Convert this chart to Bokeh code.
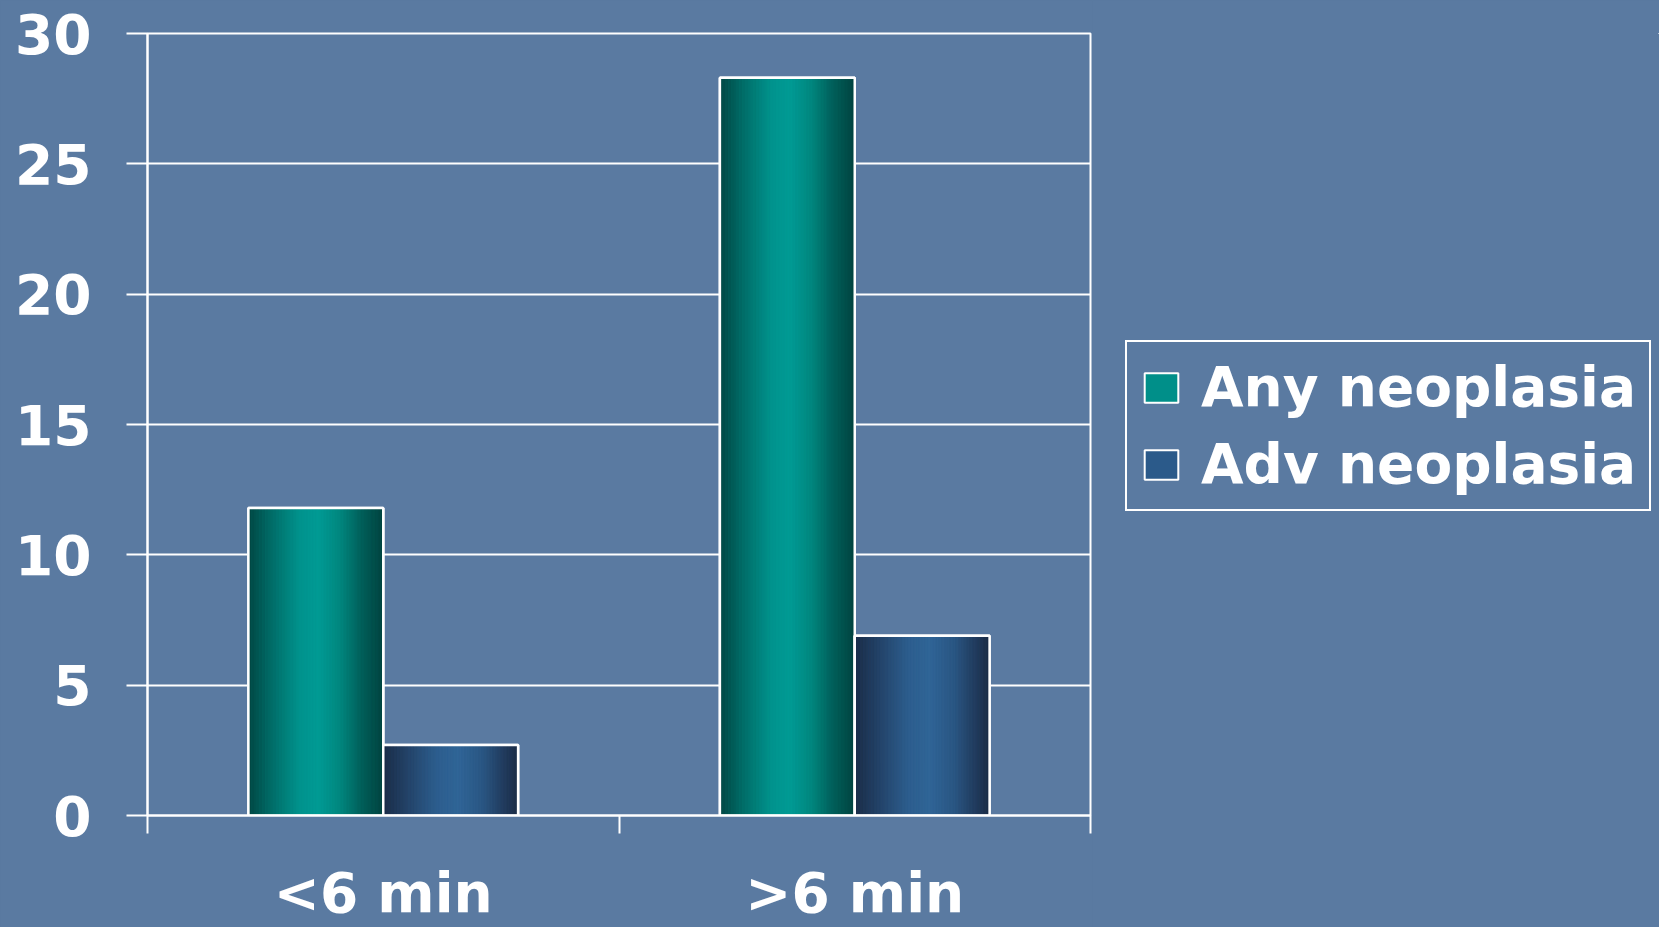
from bokeh.plotting import figure
from bokeh.layouts import row
from bokeh.models import (Range1d, FixedTicker, ColumnDataSource,
                          Legend, LegendItem)
from bokeh.embed import file_html
from bokeh.resources import INLINE

# ---- data -------------------------------------------------------------
categories = ["<6 min", ">6 min"]
series = ["Any neoplasia", "Adv neoplasia"]
any_neoplasia = [11.8, 28.3]
adv_neoplasia = [2.7, 6.9]
y_ticks = [0, 5, 10, 15, 20, 25, 30]

# ---- styling ----------------------------------------------------------
BG = "#5a7aa1"
WHITE = "#ffffff"
FONT = "DejaVu Sans"
BAR_W = 0.286          # width of one bar, in category units
N_STRIPS = 48          # vertical strips used to shade each bar like a cylinder

# horizontal shading profiles (position across bar -> colour)
any_profile = [(0.0, "#004643"), (0.18, "#006e69"), (0.38, "#00938d"),
               (0.52, "#009b95"), (0.68, "#00877f"), (0.84, "#005f5a"),
               (1.0, "#00433f")]
adv_profile = [(0.0, "#1b2c47"), (0.2, "#24456b"), (0.4, "#2d5e8e"),
               (0.56, "#306597"), (0.74, "#2a5683"), (0.9, "#213b5d"),
               (1.0, "#1b2b45")]
mid_colors = ["#008f89", "#2b5a8a"]


def hex_to_rgb(h):
    h = h.lstrip("#")
    return tuple(int(h[i:i + 2], 16) for i in (0, 2, 4))


def shade(profile, t):
    for (t0, c0), (t1, c1) in zip(profile[:-1], profile[1:]):
        if t0 <= t <= t1:
            f = (t - t0) / (t1 - t0) if t1 > t0 else 0.0
            a, b = hex_to_rgb(c0), hex_to_rgb(c1)
            r, g, bl = (round(a[k] + (b[k] - a[k]) * f) for k in range(3))
            return "#%02x%02x%02x" % (r, g, bl)
    return profile[-1][1]


centers = [i + 0.5 for i in range(len(categories))]
values = [any_neoplasia, adv_neoplasia]
profiles = [any_profile, adv_profile]
offsets = [-BAR_W / 2, BAR_W / 2]
bar_sources = [ColumnDataSource(dict(x=[c + offsets[s] for c in centers],
                                     top=values[s]))
               for s in range(len(series))]

# ---- chart ------------------------------------------------------------
p = figure(width=1092, height=927,
           x_range=Range1d(0, len(categories)), y_range=Range1d(0, 30),
           min_border_left=147, min_border_right=2,
           min_border_top=33, min_border_bottom=112,
           output_backend="svg", toolbar_location=None)

p.background_fill_color = BG
p.border_fill_color = BG
p.outline_line_color = WHITE
p.outline_line_width = 2

for s, name in enumerate(series):
    src = bar_sources[s]
    p.vbar(x="x", top="top", bottom=0, width=BAR_W, source=src,
           fill_color=mid_colors[s], line_color=WHITE, line_width=2.5)

    # cylinder shading
    sx, st, sc = [], [], []
    for c, v in zip(src.data["x"], src.data["top"]):
        left = c - BAR_W / 2
        for k in range(N_STRIPS):
            t = (k + 0.5) / N_STRIPS
            sx.append(left + t * BAR_W)
            st.append(v)
            sc.append(shade(profiles[s], t))
    strip_src = ColumnDataSource(dict(x=sx, top=st, color=sc))
    p.vbar(x="x", top="top", bottom=0, width=BAR_W / N_STRIPS * 1.02,
           source=strip_src, fill_color="color", line_color="color",
           line_width=0.6)

    # crisp white border on top of the shading
    p.vbar(x="x", top="top", bottom=0, width=BAR_W, source=src,
           fill_alpha=0, line_color=WHITE, line_width=2.5)

# ---- axes -------------------------------------------------------------
p.xgrid.visible = False
p.ygrid.grid_line_color = WHITE
p.ygrid.grid_line_width = 2
p.ygrid.ticker = FixedTicker(ticks=y_ticks)

yax = p.yaxis[0]
yax.ticker = FixedTicker(ticks=y_ticks)
yax.axis_line_color = WHITE
yax.axis_line_width = 2
yax.major_tick_line_color = WHITE
yax.major_tick_line_width = 2
yax.major_tick_out = 21
yax.major_tick_in = 0
yax.minor_tick_line_color = None
yax.major_label_standoff = 35
yax.major_label_text_font = FONT
yax.major_label_text_font_style = "bold"
yax.major_label_text_font_size = "55px"
yax.major_label_text_color = WHITE

# category names sit at the group centres, tick marks at the group edges
xax = p.xaxis[0]
xax.ticker = FixedTicker(ticks=centers,
                         minor_ticks=list(range(len(categories) + 1)))
xax.major_label_overrides = {c: name for c, name in zip(centers, categories)}
xax.axis_line_color = WHITE
xax.axis_line_width = 2
xax.major_tick_line_color = None
xax.major_tick_out = 0
xax.major_tick_in = 0
xax.minor_tick_line_color = WHITE
xax.minor_tick_line_width = 2
xax.minor_tick_out = 18
xax.minor_tick_in = 0
xax.major_label_standoff = 27
xax.major_label_text_font = FONT
xax.major_label_text_font_style = "bold"
xax.major_label_text_font_size = "55px"
xax.major_label_text_color = WHITE

# ---- legend panel -----------------------------------------------------
# the same series bars feed the legend; this panel's ranges keep them out of view
lp = figure(width=567, height=927, x_range=Range1d(-10, -8),
            y_range=Range1d(-20, -10), min_border=0,
            output_backend="svg", toolbar_location=None)
lp.axis.visible = False
lp.grid.visible = False
lp.outline_line_color = None
lp.background_fill_color = None
lp.border_fill_color = BG

swatches = [lp.vbar(x="x", top="top", bottom=0, width=BAR_W,
                    source=bar_sources[s], fill_color=mid_colors[s],
                    line_color=WHITE, line_width=2)
            for s in range(len(series))]

legend = Legend(items=[LegendItem(label=n, renderers=[r])
                       for n, r in zip(series, swatches)],
                location=(33, 304), orientation="vertical",
                border_line_color=WHITE, border_line_width=2,
                border_line_alpha=1.0, background_fill_alpha=0,
                label_text_font=FONT, label_text_font_style="bold",
                label_text_font_size="55px", label_text_color=WHITE,
                glyph_width=42, glyph_height=37, label_standoff=19,
                label_height=64, spacing=13, padding=13, margin=0)
lp.add_layout(legend, "center")

layout = row(p, lp, spacing=0, styles={"background-color": BG})
open("out.html", "w").write(file_html(layout, INLINE))
